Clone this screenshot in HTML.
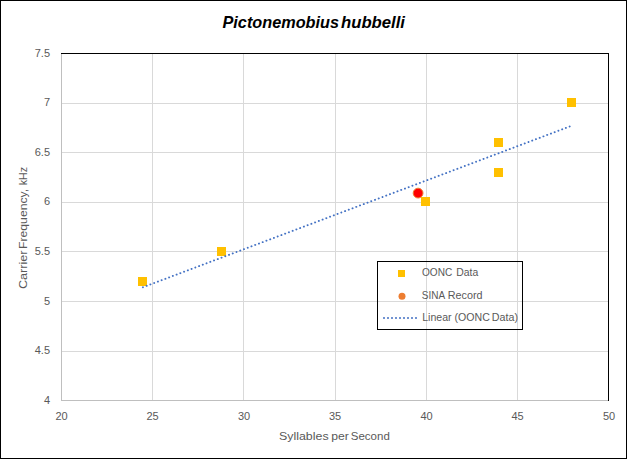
<!DOCTYPE html>
<html><head><meta charset="utf-8">
<style>
html,body{margin:0;padding:0;background:#fff;}
body{width:627px;height:459px;overflow:hidden;}
svg{display:block;}
text{font-family:"Liberation Sans", sans-serif;}
</style></head>
<body>
<svg width="627" height="459" viewBox="0 0 627 459">
<rect x="0.5" y="0.5" width="626" height="458" fill="#fff" stroke="#000" stroke-width="1"/>
<!-- gridlines -->
<g stroke="#d9d9d9" stroke-width="1" shape-rendering="crispEdges">
<line x1="152.5" y1="53" x2="152.5" y2="400"/>
<line x1="243.5" y1="53" x2="243.5" y2="400"/>
<line x1="335.5" y1="53" x2="335.5" y2="400"/>
<line x1="426.5" y1="53" x2="426.5" y2="400"/>
<line x1="517.5" y1="53" x2="517.5" y2="400"/>
<line x1="61" y1="103.5" x2="608" y2="103.5"/>
<line x1="61" y1="152.5" x2="608" y2="152.5"/>
<line x1="61" y1="202.5" x2="608" y2="202.5"/>
<line x1="61" y1="251.5" x2="608" y2="251.5"/>
<line x1="61" y1="301.5" x2="608" y2="301.5"/>
<line x1="61" y1="351.5" x2="608" y2="351.5"/>
</g>
<g stroke="#bfbfbf" stroke-width="1" shape-rendering="crispEdges">
<line x1="61.5" y1="53" x2="61.5" y2="401"/>
<line x1="61" y1="400.5" x2="609" y2="400.5"/>
</g>
<g stroke="#000" stroke-width="1" shape-rendering="crispEdges">
<line x1="61" y1="53.5" x2="609" y2="53.5"/>
<line x1="608.5" y1="53" x2="608.5" y2="401"/>
</g>
<!-- title -->
<g font-size="16.4" font-weight="bold" font-style="italic" fill="#000">
<text x="222.5" y="27.5" textLength="116.5" lengthAdjust="spacingAndGlyphs">Pictonemobius</text>
<text x="341" y="27.5" textLength="64" lengthAdjust="spacingAndGlyphs">hubbelli</text>
</g>
<!-- y labels -->
<g font-size="11" fill="#595959" text-anchor="end">
<text x="50" y="57">7.5</text>
<text x="50" y="106">7</text>
<text x="50" y="156">6.5</text>
<text x="50" y="205">6</text>
<text x="50" y="255">5.5</text>
<text x="50" y="305">5</text>
<text x="50" y="354">4.5</text>
<text x="50" y="404">4</text>
</g>
<!-- x labels -->
<g font-size="11" fill="#595959" text-anchor="middle">
<text x="61.5" y="420">20</text>
<text x="152.5" y="420">25</text>
<text x="244" y="420">30</text>
<text x="335" y="420">35</text>
<text x="426.5" y="420">40</text>
<text x="517.5" y="420">45</text>
<text x="609" y="420">50</text>
</g>
<!-- axis titles -->
<g font-size="11.4" fill="#595959">
<text x="279.0" y="440" textLength="49.6" lengthAdjust="spacingAndGlyphs">Syllables</text>
<text x="331.2" y="440" textLength="17.6" lengthAdjust="spacingAndGlyphs">per</text>
<text x="350.8" y="440" textLength="39" lengthAdjust="spacingAndGlyphs">Second</text>
</g>
<g transform="translate(26.9,288.5) rotate(-90)" font-size="11.4" fill="#595959">
<text x="-0.6" y="0" textLength="38.6" lengthAdjust="spacingAndGlyphs">Carrier</text>
<text x="39.6" y="0" textLength="60" lengthAdjust="spacingAndGlyphs">Frequency,</text>
<text x="103.3" y="0" textLength="18.3" lengthAdjust="spacingAndGlyphs">kHz</text>
</g>
<!-- data squares -->
<g fill="#ffc000">
<rect x="138" y="277" width="9" height="9"/>
<rect x="217" y="247" width="9" height="9"/>
<rect x="421" y="197" width="9" height="9"/>
<rect x="494" y="138" width="9" height="9"/>
<rect x="494" y="168" width="9" height="9"/>
<rect x="567" y="98" width="9" height="9"/>
</g>
<circle cx="418.1" cy="193.1" r="4.9" fill="#ff0000" stroke="#ed7d31" stroke-width="1"/>
<!-- trendline -->
<line x1="142" y1="287.6" x2="571" y2="126.0" stroke="#4472c4" stroke-width="1.9" stroke-dasharray="0.1 3.9" stroke-dashoffset="-0.95" stroke-linecap="round"/>
<!-- legend -->
<rect x="377.5" y="261.5" width="145" height="68" fill="none" stroke="#000" stroke-width="1"/>
<rect x="398" y="270" width="7" height="7" fill="#ffc000"/>
<circle cx="402" cy="296.2" r="3.5" fill="#ed7d31"/>
<line x1="383" y1="318" x2="418" y2="318" stroke="#4472c4" stroke-width="1.6" stroke-dasharray="2 2"/>
<g font-size="10.5" fill="#595959">
<text x="422" y="276" textLength="30.2" lengthAdjust="spacingAndGlyphs">OONC</text>
<text x="456.2" y="276" textLength="22" lengthAdjust="spacingAndGlyphs">Data</text>
<text x="421.8" y="299" textLength="23.4" lengthAdjust="spacingAndGlyphs">SINA</text>
<text x="447.8" y="299" textLength="34.8" lengthAdjust="spacingAndGlyphs">Record</text>
<text x="422.2" y="321" textLength="67.6" lengthAdjust="spacingAndGlyphs">Linear (OONC</text>
<text x="491.8" y="321" textLength="26.2" lengthAdjust="spacingAndGlyphs">Data)</text>
</g>
</svg>
</body></html>
